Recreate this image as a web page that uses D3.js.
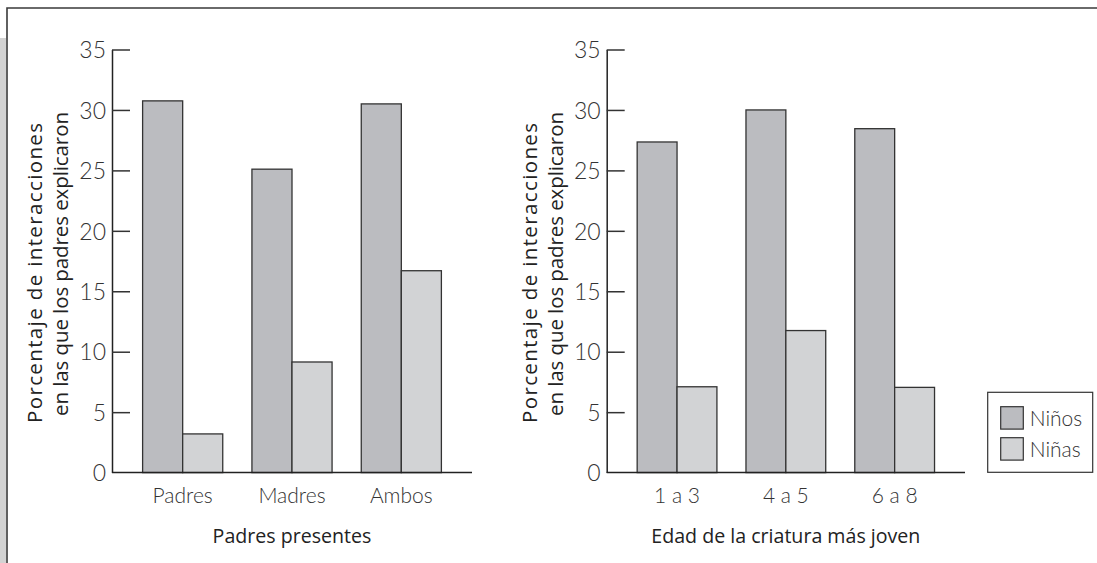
<!DOCTYPE html>
<html><head><meta charset="utf-8">
<script src="https://cdn.jsdelivr.net/npm/d3@7"></script>
<style>
html,body{margin:0;padding:0;background:#fff;}
svg{display:block;}
</style></head>
<body>
<svg id="chart" width="1097" height="563"></svg>
<script>
const series = ["Niños", "Niñas"];
const leftCategories = ["Padres", "Madres", "Ambos"];
const leftNinos = [30.75, 25.1, 30.5];
const leftNinas = [3.2, 9.15, 16.7];
const rightCategories = ["1 a 3", "4 a 5", "6 a 8"];
const rightNinos = [27.35, 30.0, 28.45];
const rightNinas = [7.1, 11.75, 7.05];
const yTicks = [0, 5, 10, 15, 20, 25, 30, 35];
const yLabel = ["Porcentaje de interacciones", "en las que los padres explicaron"];
const leftTitle = "Padres presentes";
const rightTitle = "Edad de la criatura más joven";

const colors = {"Niños": "#bbbcc0", "Niñas": "#d2d3d5"};
const svg = d3.select("#chart");
const FONT = "Lato, 'Open Sans', sans-serif";
const FONT2 = "'Open Sans', Lato, sans-serif";
const yLabelLen = [300, 304];
const yLabelShift = [5, -4];

// outer frame
svg.append("rect").attr("x", 0).attr("y", 38).attr("width", 6).attr("height", 530).attr("fill", "#d3d3d3");
svg.append("path").attr("d", "M7,563 L7,8 L1097,8").attr("fill", "none").attr("stroke", "#3a3a3a").attr("stroke-width", 1.6);

const y = d3.scaleLinear().domain([0, 35]).range([472.6, 49.5]);

function drawPanel(axisX, endX, cats, ninos, ninas, title) {
  const g = svg.append("g");
  const x0 = d3.scaleBand().domain(cats).range([axisX, endX]).paddingInner(0.267).paddingOuter(0.28);
  const x1 = d3.scaleBand().domain(series).range([0, x0.bandwidth()]);
  const rows = cats.map((c, i) => ({cat: c, vals: [{s: "Niños", v: ninos[i]}, {s: "Niñas", v: ninas[i]}]}));

  const grp = g.selectAll("g.grp").data(rows).join("g").attr("transform", d => `translate(${x0(d.cat)},0)`);
  grp.selectAll("rect").data(d => d.vals).join("rect")
    .attr("x", d => x1(d.s)).attr("width", x1.bandwidth())
    .attr("y", d => y(d.v)).attr("height", d => y(0) - y(d.v))
    .attr("fill", d => colors[d.s]).attr("stroke", "#333").attr("stroke-width", 1.3);

  // y axis
  const ax = g.append("g").attr("transform", `translate(${axisX},0)`)
    .call(d3.axisLeft(y).tickValues(yTicks).tickSize(-18).tickSizeOuter(0).tickPadding(6));
  ax.select(".domain").attr("stroke", "#222").attr("stroke-width", 1.5);
  ax.selectAll(".tick line").attr("stroke", "#333").attr("stroke-width", 1.5);
  ax.selectAll(".tick").filter(d => d === 0).select("line").remove();
  ax.selectAll(".tick text").attr("font-family", FONT).attr("font-weight", 300)
    .attr("font-size", 23).attr("fill", "#333").attr("dy", "0.36em");

  // baseline
  g.append("line").attr("x1", axisX).attr("x2", endX).attr("y1", y(0)).attr("y2", y(0))
    .attr("stroke", "#222").attr("stroke-width", 1.5);

  // x tick labels
  g.selectAll("text.xl").data(cats).join("text").attr("class", "xl")
    .attr("x", d => x0(d) + x0.bandwidth() / 2).attr("y", 503)
    .attr("text-anchor", "middle").attr("font-family", FONT).attr("font-weight", 300)
    .attr("font-size", 21).attr("fill", "#333").text(d => d);

  // x title
  g.append("text").attr("x", x0(cats[1]) + x0.bandwidth() / 2).attr("y", 543)
    .attr("text-anchor", "middle").attr("font-family", FONT2).attr("font-size", 19.6)
    .attr("fill", "#222").text(title);

  // y label
  const yl = g.append("text").attr("transform", `translate(${axisX - 70},268) rotate(-90)`)
    .attr("text-anchor", "middle").attr("font-family", FONT2).attr("font-size", 20.5)
    .attr("fill", "#222");
  yl.selectAll("tspan").data(yLabel).join("tspan")
    .attr("x", (d, i) => -yLabelShift[i]).attr("y", (d, i) => i * 26)
    .attr("textLength", (d, i) => yLabelLen[i]).attr("lengthAdjust", "spacing")
    .text(d => d);
}

drawPanel(112, 472, leftCategories, leftNinos, leftNinas, leftTitle);
drawPanel(606.7, 965, rightCategories, rightNinos, rightNinas, rightTitle);

// legend
const lg = svg.append("g");
lg.append("rect").attr("x", 987.7).attr("y", 392.3).attr("width", 105).attr("height", 80)
  .attr("fill", "#fff").attr("stroke", "#333").attr("stroke-width", 1.2);
const li = lg.selectAll("g.li").data(series).join("g").attr("class", "li")
  .attr("transform", (d, i) => `translate(1000.7,${406.7 + i * 31})`);
li.append("rect").attr("width", 22.6).attr("height", 22.4).attr("fill", d => colors[d])
  .attr("stroke", "#333").attr("stroke-width", 1.2);
li.append("text").attr("x", 29).attr("y", 19).attr("font-family", FONT).attr("font-weight", 300)
  .attr("font-size", 21).attr("fill", "#333").text(d => d);
</script>
</body></html>
